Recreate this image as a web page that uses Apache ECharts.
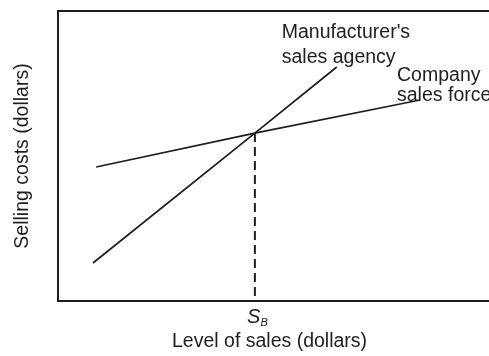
<!DOCTYPE html>
<html>
<head>
<meta charset="utf-8">
<script src="https://cdn.jsdelivr.net/npm/echarts@6/dist/echarts.min.js"></script>
<style>
  html, body { margin: 0; padding: 0; background: #fff; }
  #chart { width: 489px; height: 356px; }
</style>
</head>
<body>
<div id="chart"></div>
<script>
// Break-even analysis: selling costs vs. level of sales
const agencyLabel = "Manufacturer's\nsales agency";
const forceLabel = 'Company\nsales force';
const xTitle = 'Level of sales (dollars)';
const yTitle = 'Selling costs (dollars)';

// [level of sales, selling cost] on a 0-100 schematic scale
const agencyCosts = [[7.6, 13.1], [42.8, 57.9], [60.6, 80.7]];
const salesForceCosts = [[8.3, 46.2], [42.8, 57.9], [78.7, 69.3]];
const breakEven = [42.8, 57.9];
const breakEvenTick = 'S';
const breakEvenSub = 'B';

const FONT = '"Liberation Sans", Arial, Helvetica, sans-serif';
const FS = 19.5;
const INK = '#1e1e1e';

const chart = echarts.init(document.getElementById('chart'), null, { renderer: 'canvas' });

function endLabel(text, offset, lineHeight) {
  return {
    show: true,
    position: 'top',
    distance: 0,
    align: 'left',
    verticalAlign: 'bottom',
    offset: offset,
    color: INK,
    fontFamily: FONT,
    fontSize: FS,
    lineHeight: lineHeight,
    formatter: text
  };
}

// Invisible end markers so the point labels can be attached
const hiddenSymbol = {
  symbol: 'circle',
  symbolSize: 1,
  showSymbol: true,
  showAllSymbol: true,
  itemStyle: { color: 'rgba(0,0,0,0)' }
};

chart.setOption({
  animation: false,
  backgroundColor: '#fff',
  grid: {
    left: 58, top: 11, width: 460, height: 290,
    outerBoundsMode: 'none',
    containLabel: false,
    show: true, borderColor: INK, borderWidth: 2, backgroundColor: 'transparent'
  },
  xAxis: {
    type: 'value', min: 0, max: 100,
    splitLine: { show: false },
    axisLine: { show: false },
    axisTick: { show: false },
    axisLabel: {
      customValues: [breakEven[0]],
      margin: 5,
      formatter: () => '{s|' + breakEvenTick + '}{b|' + breakEvenSub + '}',
      rich: {
        s: { fontFamily: FONT, fontSize: 20, fontStyle: 'italic', color: INK, padding: [0, 0, 0, 5] },
        b: { fontFamily: FONT, fontSize: 11, fontStyle: 'italic', color: INK, padding: [11, 0, 0, 0] }
      }
    }
  },
  yAxis: {
    type: 'value', min: 0, max: 100,
    splitLine: { show: false },
    axisLine: { show: false },
    axisTick: { show: false },
    axisLabel: { show: false },
    name: yTitle,
    nameLocation: 'middle',
    nameGap: 25,
    nameTextStyle: { fontFamily: FONT, fontSize: FS, color: INK }
  },
  graphic: [{
    type: 'text',
    left: 172,
    top: 332,
    style: { text: xTitle, font: FS + 'px ' + FONT, fill: INK }
  }],
  series: [
    Object.assign({
      name: agencyLabel,
      type: 'line',
      data: agencyCosts.map((p, i) => i === agencyCosts.length - 1
        ? { value: p, label: endLabel(agencyLabel, [-55, 4], 25) }
        : p),
      lineStyle: { color: INK, width: 1.7 },
      z: 3
    }, hiddenSymbol),
    Object.assign({
      name: forceLabel,
      type: 'line',
      data: salesForceCosts.map((p, i) => i === salesForceCosts.length - 1
        ? { value: p, label: endLabel(forceLabel, [-23, 6], 20) }
        : p),
      lineStyle: { color: INK, width: 1.7 },
      z: 3
    }, hiddenSymbol),
    {
      name: 'break-even',
      type: 'line',
      data: [breakEven, [breakEven[0], 0]],
      symbol: 'none',
      lineStyle: { color: INK, width: 2, type: [9, 5] },
      z: 2
    }
  ]
});
</script>
</body>
</html>
